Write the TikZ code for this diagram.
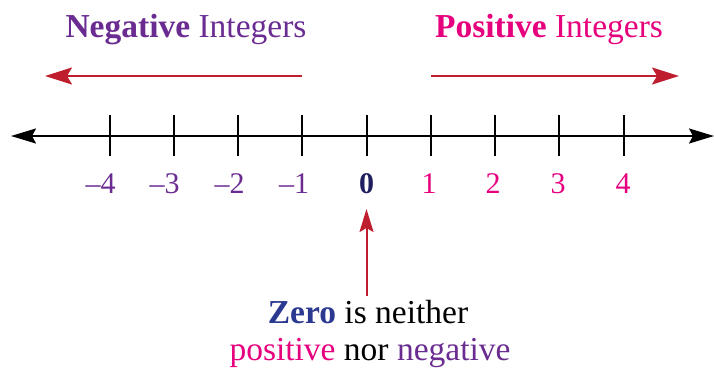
\documentclass[tikz,border=0pt]{standalone}
\usepackage{fontspec}
\setmainfont{Liberation Serif}
\usetikzlibrary{arrows.meta}
\definecolor{negcol}{HTML}{6A2C91}
\definecolor{poscol}{HTML}{E6007E}
\definecolor{arrcol}{HTML}{BE1E2D}
\definecolor{zerocol}{HTML}{1F1F5F}
\definecolor{zeroword}{HTML}{2B3990}
\tikzset{
  tickline/.style={line width=2pt, black},
  redarrow/.style={line width=2pt, arrcol, -{Stealth[length=27pt,width=17pt,inset=5pt]}},
  numlab/.style={font=\fontsize{30}{30}\selectfont, anchor=base, inner sep=0pt},
  titlelab/.style={font=\fontsize{33.5}{33.5}\selectfont, anchor=base, inner sep=0pt},
}
\begin{document}
\begin{tikzpicture}[x=1pt,y=-1pt]
\useasboundingbox (0,0) rectangle (714,367);
% axis
\coordinate (L) at (11,136);
\coordinate (R) at (714,136);
\draw[line width=2pt, {Stealth[length=25pt,width=15pt,inset=4pt]}-{Stealth[length=25pt,width=15pt,inset=4pt]}] (L) -- (R);
% ticks
\foreach \n/\x in {m4/110,m3/173.5,m2/237.5,m1/302,z/366.5,p1/431,p2/495,p3/559,p4/624}{
  \coordinate (t\n a) at (\x,115);
  \coordinate (t\n b) at (\x,156);
  \draw[tickline] (t\n a) -- (t\n b);
}
% numbers
\node[numlab, negcol] (nm4) at (100.5,193) {–4};
\node[numlab, negcol] (nm3) at (164.5,193) {–3};
\node[numlab, negcol] (nm2) at (229.5,193) {–2};
\node[numlab, negcol] (nm1) at (294,193) {–1};
\node[numlab, zerocol, font=\fontsize{30}{30}\selectfont\bfseries] (n0) at (366.5,193) {0};
\node[numlab, poscol] (np1) at (429,193) {1};
\node[numlab, poscol] (np2) at (493,193) {2};
\node[numlab, poscol] (np3) at (558,193) {3};
\node[numlab, poscol] (np4) at (623,193) {4};
% titles
\node[titlelab, negcol] (negt) at (186,37) {\textbf{Negative} Integers};
\node[titlelab, poscol] (post) at (549,37) {\textbf{Positive} Integers};
% direction arrows
\coordinate (na) at (302,76);
\coordinate (nb) at (45,76);
\draw[redarrow] (na) -- (nb);
\coordinate (pa) at (431,76);
\coordinate (pb) at (679,76);
\draw[redarrow] (pa) -- (pb);
% zero note
\node[titlelab] (z1) at (368,323) {\textcolor{zeroword}{\textbf{Zero}} is neither};
\node[titlelab] (z2) at (370,360) {\textcolor{poscol}{positive} nor \textcolor{negcol}{negative}};
\coordinate (za) at (366.5,296);
\coordinate (zb) at (366.5,209);
\draw[arrcol, line width=2pt, -{Stealth[length=23pt,width=14pt,inset=4pt]}] (za) -- (zb);
\end{tikzpicture}
\end{document}
